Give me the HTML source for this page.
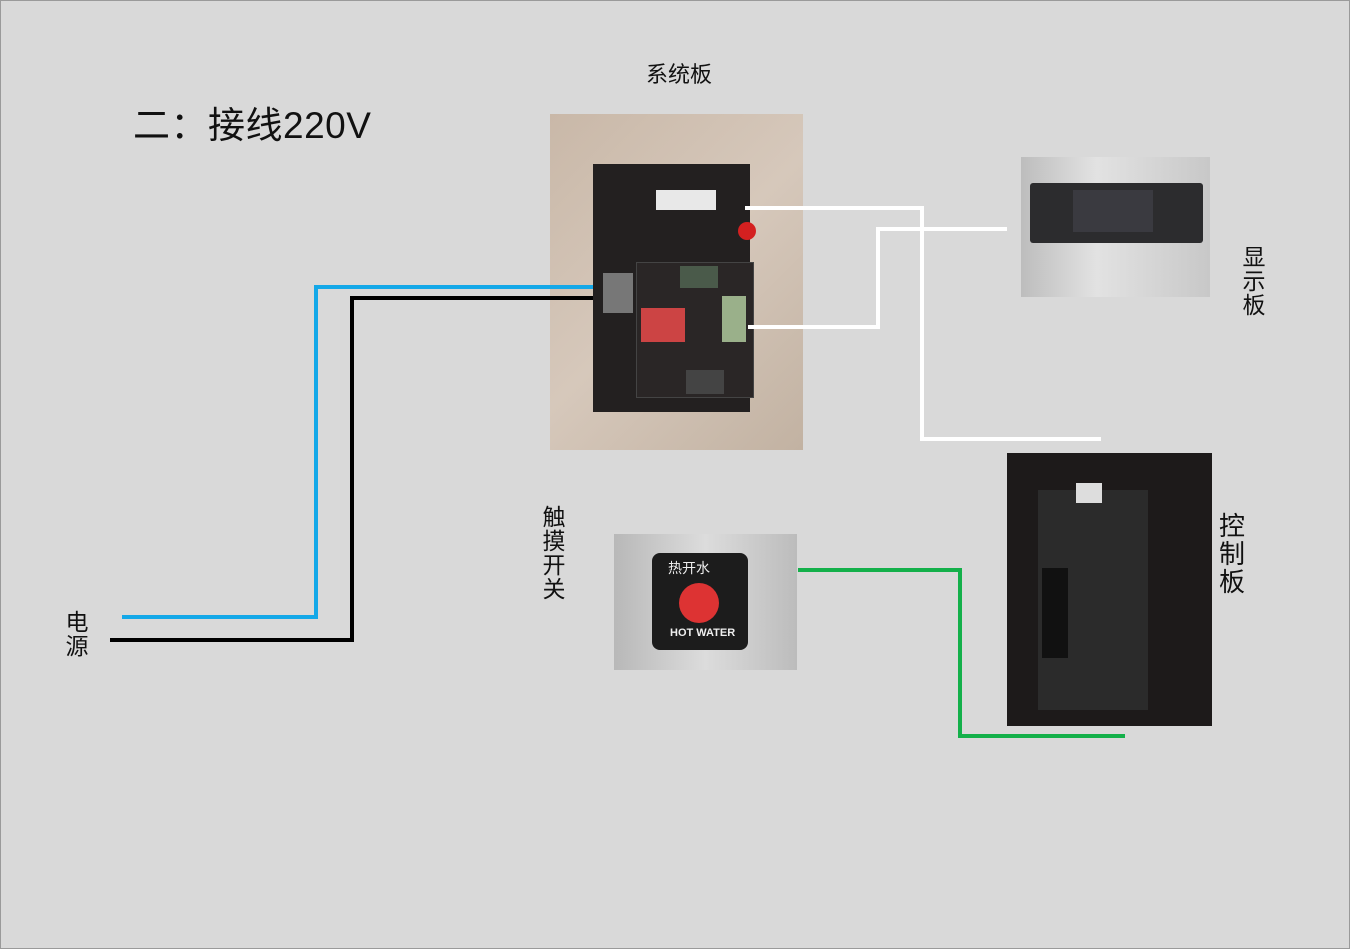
<!DOCTYPE html>
<html><head><meta charset="utf-8"><style>
body{margin:0;width:1350px;height:949px;background:#d9d9d9;position:relative;overflow:hidden;font-family:"Liberation Sans","Noto Sans CJK SC",sans-serif;}
.frame{position:absolute;left:0;top:0;width:1348px;height:947px;border:1px solid #9a9a9a;}
.t{position:absolute;color:#111;}
.v{position:absolute;font-size:23px;line-height:24px;width:26px;text-align:center;color:#111;}
.abs{position:absolute;}
</style></head><body>
<div class="frame"></div>
<div class="t" style="left:133px;top:95px;font-size:37px;letter-spacing:0.5px;">二：接线220V</div>
<div class="t" style="left:646px;top:57px;font-size:22px;">系统板</div>
<div class="v" style="left:1241px;top:245px;">显示板</div>
<div class="v" style="left:1218px;top:512px;font-size:26px;line-height:28px;width:28px;">控制板</div>
<div class="v" style="left:541px;top:505px;">触摸开关</div>
<div class="v" style="left:64px;top:610px;">电源</div>

<div class="abs" style="left:550px;top:114px;width:253px;height:336px;background:linear-gradient(135deg,#c9b8a8,#d6c8bb 50%,#c2b2a2);"></div>
<div class="abs" style="left:593px;top:164px;width:157px;height:248px;background:#232020;"></div>
<div class="abs" style="left:636px;top:262px;width:116px;height:134px;background:#2a2626;border:1px solid #444;"></div>
<div class="abs" style="left:656px;top:190px;width:60px;height:20px;background:#e8e8e8;"></div>
<div class="abs" style="left:738px;top:222px;width:18px;height:18px;border-radius:50%;background:#d42020;"></div>
<div class="abs" style="left:680px;top:266px;width:38px;height:22px;background:#4a5a4a;"></div>
<div class="abs" style="left:722px;top:296px;width:24px;height:46px;background:#9ab08a;"></div>
<div class="abs" style="left:641px;top:308px;width:44px;height:34px;background:#c44;"></div>
<div class="abs" style="left:686px;top:370px;width:38px;height:24px;background:#444;"></div>
<div class="abs" style="left:603px;top:273px;width:30px;height:40px;background:#777;"></div>

<div class="abs" style="left:1021px;top:157px;width:189px;height:140px;background:linear-gradient(90deg,#bdbdbd,#e2e2e2 40%,#c8c8c8);"></div>
<div class="abs" style="left:1030px;top:183px;width:173px;height:60px;background:#2c2c2e;border-radius:3px;"></div>
<div class="abs" style="left:1073px;top:190px;width:80px;height:42px;background:#3a3a40;"></div>

<div class="abs" style="left:614px;top:534px;width:183px;height:136px;background:linear-gradient(90deg,#b8b8b8,#dcdcdc 50%,#bcbcbc);"></div>
<div class="abs" style="left:652px;top:553px;width:96px;height:97px;background:#1c1c1c;border-radius:8px;"></div>
<div class="abs" style="left:679px;top:583px;width:40px;height:40px;border-radius:50%;background:#d33;"></div>
<div class="abs" style="left:668px;top:558px;font-size:14px;color:#eee;">热开水</div>
<div class="abs" style="left:670px;top:627px;font-size:11px;color:#eee;font-weight:bold;">HOT WATER</div>

<div class="abs" style="left:1007px;top:453px;width:205px;height:273px;background:#1d1a1a;"></div>
<div class="abs" style="left:1038px;top:490px;width:110px;height:220px;background:#2b2b2b;"></div>
<div class="abs" style="left:1042px;top:568px;width:26px;height:90px;background:#111;"></div>
<div class="abs" style="left:1076px;top:483px;width:26px;height:20px;background:#ddd;"></div>

<svg class="abs" style="left:0;top:0" width="1350" height="949">
<g fill="none" stroke-width="4">
<polyline points="122,617 316,617 316,287 593,287" stroke="#14a8e8"/>
<polyline points="110,640 352,640 352,298 593,298" stroke="#000"/>
<polyline points="745,208 922,208 922,439 1101,439" stroke="#fff"/>
<polyline points="748,327 878,327 878,229 1007,229" stroke="#fff"/>
<polyline points="798,570 960,570 960,736 1125,736" stroke="#14b04a"/>
</g></svg>
</body></html>
